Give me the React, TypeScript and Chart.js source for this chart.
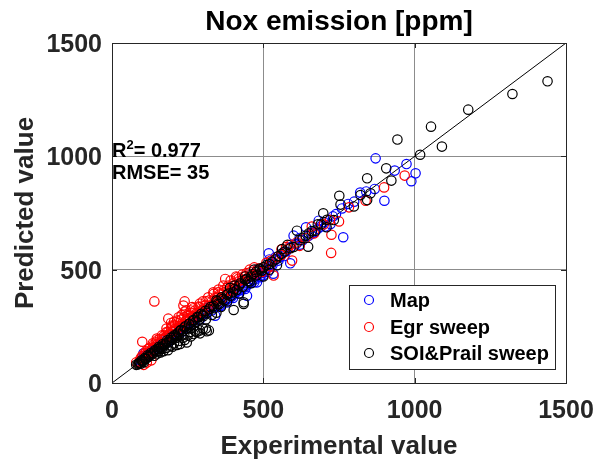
import React, { useEffect, useRef } from "react";
import { Chart, registerables } from "chart.js";

Chart.register(...registerables);

const chartTitle = "Nox emission [ppm]";
const xTitle = "Experimental value";
const yTitle = "Predicted value";
const tickValues = [0, 500, 1000, 1500];
const seriesNames = ["Map", "Egr sweep", "SOI&Prail sweep"];
const seriesColors = ["#0000ff", "#ff0000", "#000000"];
const r2Text = "0.977";
const rmseText = "35";

const mapX = [871, 973, 1003, 989, 934, 900, 868, 764, 722, 683, 641, 600, 589, 518, 479, 446, 341, 104,
  730, 705, 660, 620, 570, 550, 530, 505, 490, 470, 455, 430, 410, 395, 380, 360, 330, 310, 290, 270, 250,
  230, 215, 200, 185, 170, 150, 135, 120, 110, 100, 95, 160, 240, 280, 320, 420, 460, 540, 620, 680, 780, 820,
  105, 115, 125, 140, 145, 155, 165, 175, 190, 195, 205, 220, 225, 235, 245, 255, 265, 275, 285, 295, 305,
  315, 325, 335, 345, 355, 365, 375, 385, 395, 405, 415, 425, 435, 445, 455, 465, 475, 485, 495, 505, 515,
  525, 545, 555, 565, 575, 590, 610, 630, 650, 670, 690, 700, 740, 760, 800, 840,
  451, 490, 533, 400, 420, 440, 470, 500, 515, 380, 360, 430, 480, 520];
const mapY = [991, 966, 925, 890, 937, 804, 856, 643, 701, 716, 687, 650, 528, 572, 444, 385, 297, 131,
  735, 690, 660, 640, 560, 540, 520, 495, 470, 455, 440, 420, 400, 380, 370, 345, 320, 305, 280, 262, 245,
  225, 210, 195, 180, 165, 150, 140, 120, 110, 100, 95, 175, 250, 290, 335, 440, 480, 555, 610, 680, 790, 840,
  120, 125, 135, 150, 160, 165, 172, 185, 200, 210, 215, 232, 240, 245, 255, 262, 270, 282, 290, 300, 310,
  318, 328, 335, 340, 350, 355, 362, 375, 385, 395, 405, 410, 420, 430, 445, 455, 470, 480, 485, 500, 510,
  520, 548, 555, 575, 580, 600, 615, 630, 650, 665, 690, 710, 745, 770, 800, 845,
  439, 467, 482, 375, 395, 415, 445, 475, 490, 355, 340, 455, 500, 545];

const egrX = [967, 899, 838, 783, 750, 725, 724, 667, 595, 534, 374, 140, 240, 100, 80, 286, 336, 413,
  720, 700, 640, 610, 580, 560, 520, 500, 480, 460, 440, 430, 400, 390, 370, 350, 330, 310, 300, 280, 265,
  250, 240, 230, 220, 210, 200, 190, 180, 170, 160, 150, 140, 130, 120, 110, 100, 90, 200, 215, 230, 260,
  250, 180, 165, 150, 240, 270, 310, 350, 445, 380, 420, 180, 195, 135, 120, 115, 130, 105,
  95, 100, 108, 112, 118, 125, 132, 138, 145, 152, 158, 165, 172, 178, 185, 188, 195, 202, 208, 212, 218,
  222, 228, 232, 238, 245, 252, 258, 262, 268, 275, 282, 290, 295, 305, 315, 322, 330, 340, 345, 355, 362,
  370, 378, 385, 392, 402, 408, 418, 425, 435, 450, 458, 470, 485, 495, 510, 525, 545, 560, 575, 590, 620, 660,
  300, 318, 335, 352, 368, 392, 410, 430, 455, 470, 290, 236, 186, 197, 148, 220, 205, 265, 245];
const egrY = [915, 863, 804, 775, 713, 654, 574, 660, 540, 474, 459, 360, 360, 182, 91, 337, 393, 466,
  720, 700, 640, 620, 590, 565, 515, 510, 495, 480, 470, 455, 430, 410, 400, 380, 360, 345, 320, 310, 295,
  285, 270, 260, 250, 240, 230, 215, 205, 195, 180, 170, 160, 145, 130, 115, 105, 95, 250, 275, 300, 320,
  300, 225, 210, 190, 315, 330, 360, 400, 485, 420, 450, 240, 265, 175, 150, 90, 100, 80,
  110, 120, 130, 140, 135, 155, 150, 170, 180, 175, 195, 190, 210, 200, 225, 215, 240, 225, 255, 235, 265,
  245, 280, 255, 290, 275, 295, 280, 310, 290, 320, 305, 335, 315, 340, 330, 365, 345, 375, 355, 390, 370,
  410, 390, 430, 405, 440, 420, 460, 440, 470, 465, 490, 480, 505, 490, 530, 540, 555, 590, 600, 610, 605, 690,
  360, 378, 400, 412, 430, 452, 470, 478, 500, 510, 350, 342, 284, 253, 196, 290, 270, 335, 320];

const soiX = [1439, 1323, 1177, 1054, 1090, 943, 1018, 906, 923, 843, 751, 755, 821, 854, 799, 843, 698, 733,
  709, 672, 648, 611, 562, 435, 402, 313, 291, 269, 247, 225, 680, 650, 630, 600, 580, 560, 540, 520, 500,
  490, 475, 460, 450, 440, 420, 400, 380, 365, 350, 335, 320, 300, 285, 270, 255, 240, 225, 210, 200, 190,
  180, 170, 160, 150, 140, 130, 120, 110, 100, 90, 85, 80, 95, 105, 300, 280, 260, 240, 215, 200, 185, 170,
  160, 150, 140, 330, 345, 230, 215, 260, 270, 310,
  88, 92, 98, 102, 108, 112, 118, 122, 128, 135, 142, 148, 155, 162, 168, 175, 182, 188, 195, 198, 205,
  212, 218, 222, 228, 235, 242, 248, 255, 262, 268, 275, 282, 288, 295, 302, 308, 315, 325, 338, 348, 355,
  362, 372, 385, 392, 405, 412, 425, 432, 445, 455, 465, 478, 488, 495, 510, 530, 550, 570, 590, 620, 640,
  660, 690, 710, 250, 235, 220, 205, 195, 180, 165, 155, 290, 310, 320, 275, 258,
  435, 360, 380, 420, 460, 500, 520, 545, 470, 440, 405, 345, 390];
const soiY = [1331, 1275, 1206, 1131, 1043, 1074, 1007, 947, 893, 903, 826, 787, 829, 837, 779, 807, 749, 719,
  687, 672, 601, 672, 591, 349, 322, 228, 219, 216, 179, 172, 700, 660, 640, 600, 610, 570, 545, 525, 510,
  500, 490, 470, 450, 455, 430, 400, 390, 370, 350, 340, 325, 300, 290, 275, 260, 245, 230, 210, 200, 190,
  178, 165, 158, 150, 140, 125, 115, 105, 95, 88, 82, 80, 85, 92, 240, 225, 205, 190, 168, 160, 145, 140,
  135, 130, 120, 300, 310, 210, 200, 240, 250, 280,
  85, 90, 100, 98, 110, 108, 122, 118, 132, 130, 145, 140, 160, 155, 172, 170, 188, 180, 200, 190, 210,
  205, 222, 215, 235, 228, 250, 240, 262, 255, 278, 268, 292, 280, 305, 295, 318, 310, 335, 330, 360, 348,
  378, 365, 395, 385, 415, 410, 440, 425, 460, 448, 480, 475, 505, 495, 520, 535, 560, 580, 595, 630, 650,
  670, 700, 720, 210, 200, 185, 175, 165, 155, 150, 140, 232, 240, 232, 228, 225,
  356, 335, 360, 395, 440, 470, 500, 520, 500, 470, 430, 365, 420];

const diagX = [0, 1500];
const diagY = [0, 1500];

function pts(xs: number[], ys: number[]) {
  return xs.map((x, i) => ({ x, y: ys[i] }));
}

const FONT = "'Liberation Sans', Arial, Helvetica, sans-serif";
const TXT = "#262626";

const overlay = {
  id: "overlay",
  afterDraw(chart: any) {
    const ctx = chart.ctx as CanvasRenderingContext2D;
    const a = chart.chartArea;
    const xs = chart.scales.x;
    const ys = chart.scales.y;
    ctx.save();
    ctx.strokeStyle = TXT;
    ctx.lineWidth = 1;
    ctx.strokeRect(Math.round(a.left) + 0.5, Math.round(a.top) + 0.5, Math.round(a.right - a.left), Math.round(a.bottom - a.top));
    tickValues.forEach((v) => {
      const px = Math.round(xs.getPixelForValue(v)) + 0.5;
      const py = Math.round(ys.getPixelForValue(v)) + 0.5;
      ctx.beginPath();
      ctx.moveTo(px, a.bottom); ctx.lineTo(px, a.bottom - 5);
      ctx.moveTo(px, a.top); ctx.lineTo(px, a.top + 5);
      ctx.moveTo(a.left, py); ctx.lineTo(a.left + 5, py);
      ctx.moveTo(a.right, py); ctx.lineTo(a.right - 5, py);
      ctx.stroke();
    });
    ctx.fillStyle = TXT;
    ctx.font = `bold 25px ${FONT}`;
    ctx.textAlign = "center";
    ctx.textBaseline = "alphabetic";
    tickValues.forEach((v) => {
      ctx.fillText(String(v), xs.getPixelForValue(v), 418);
    });
    ctx.textAlign = "right";
    tickValues.forEach((v) => {
      ctx.fillText(String(v), 102, ys.getPixelForValue(v) + 9);
    });
    ctx.font = `bold 26px ${FONT}`;
    ctx.textAlign = "center";
    ctx.fillText(xTitle, (a.left + a.right) / 2, 454);
    ctx.save();
    ctx.translate(33, (a.top + a.bottom) / 2);
    ctx.rotate(-Math.PI / 2);
    ctx.fillText(yTitle, 0, 0);
    ctx.restore();
    ctx.fillStyle = "#000";
    ctx.font = `bold 28px ${FONT}`;
    ctx.fillText(chartTitle, (a.left + a.right) / 2, 30);
    ctx.textAlign = "left";
    ctx.font = `bold 20px ${FONT}`;
    ctx.fillText("R", a.left, 157);
    const rw = ctx.measureText("R").width;
    ctx.font = `bold 13px ${FONT}`;
    ctx.fillText("2", a.left + rw, 149);
    const sw = ctx.measureText("2").width;
    ctx.font = `bold 20px ${FONT}`;
    ctx.fillText("= " + r2Text, a.left + rw + sw, 157);
    ctx.fillText("RMSE= " + rmseText, a.left, 179);
    const lx = 349, ly = 285, lw = 206, lh = 84;
    ctx.fillStyle = "#fff";
    ctx.fillRect(lx, ly, lw, lh);
    ctx.strokeStyle = TXT;
    ctx.strokeRect(lx + 0.5, ly + 0.5, lw, lh);
    const rows = [300, 327, 353];
    ctx.font = `bold 20px ${FONT}`;
    seriesNames.forEach((n, i) => {
      ctx.strokeStyle = seriesColors[i];
      ctx.lineWidth = 1.2;
      ctx.beginPath();
      ctx.arc(369, rows[i], 4.5, 0, Math.PI * 2);
      ctx.stroke();
      ctx.fillStyle = "#000";
      ctx.fillText(n, 390, rows[i] + 7);
    });
    ctx.restore();
  },
};

export default function App() {
  const ref = useRef<HTMLCanvasElement>(null);
  useEffect(() => {
    document.body.style.margin = "0";
    const mk = (i: number, xs: number[], ys: number[], order: number) => ({
      type: "scatter" as const,
      label: seriesNames[i],
      data: pts(xs, ys),
      borderColor: seriesColors[i],
      backgroundColor: "rgba(0,0,0,0)",
      pointRadius: 4.7,
      pointBorderWidth: 1.2,
      showLine: false,
      order,
    });
    const chart = new Chart(ref.current!, {
      type: "scatter",
      data: {
        datasets: [
          {
            type: "line" as const,
            label: "fit",
            data: pts(diagX, diagY),
            borderColor: "#000",
            borderWidth: 1,
            pointRadius: 0,
            fill: false,
            order: 4,
          } as any,
          mk(0, mapX, mapY, 3),
          mk(1, egrX, egrY, 2),
          mk(2, soiX, soiY, 1),
        ],
      },
      options: {
        animation: false,
        responsive: false,
        layout: { padding: { left: 112, right: 31, top: 43, bottom: 79 } },
        plugins: { legend: { display: false }, tooltip: { enabled: false }, title: { display: false } },
        scales: {
          x: {
            type: "linear",
            min: 0,
            max: 1500,
            ticks: { display: false, stepSize: 500 },
            grid: { color: "#8c8c8c", drawTicks: false, lineWidth: 1 },
            border: { display: false },
          },
          y: {
            type: "linear",
            min: 0,
            max: 1500,
            ticks: { display: false, stepSize: 500 },
            grid: { color: "#8c8c8c", drawTicks: false, lineWidth: 1 },
            border: { display: false },
          },
        },
      },
      plugins: [overlay],
    });
    return () => chart.destroy();
  }, []);
  return (
    <div style={{ position: "absolute", left: 0, top: 0, width: 597, height: 462, background: "#fff" }}>
      <canvas ref={ref} width={597} height={462} />
    </div>
  );
}
